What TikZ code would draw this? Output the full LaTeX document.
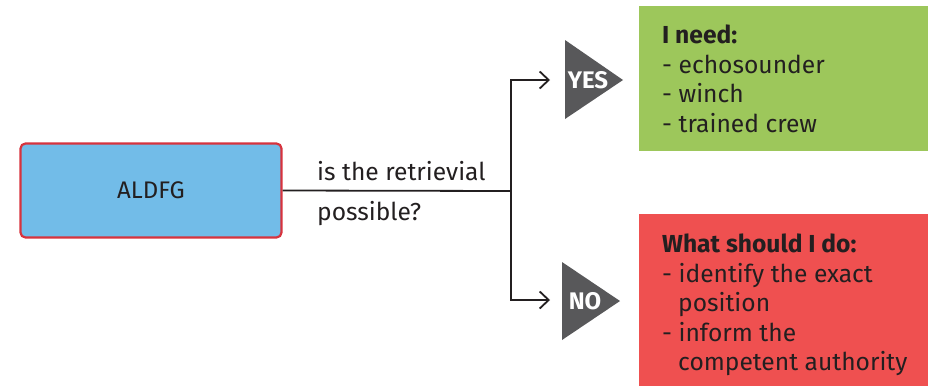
\documentclass[tikz,border=0pt]{standalone}
\usepackage{fontspec}
\setmainfont{Fira Sans}
\usetikzlibrary{arrows.meta}
\definecolor{boxblue}{HTML}{72BCE8}
\definecolor{boxedge}{HTML}{D7333D}
\definecolor{needgreen}{HTML}{9DC75B}
\definecolor{dored}{HTML}{EF5050}
\definecolor{tri}{HTML}{58585A}
\definecolor{ink}{HTML}{231F20}
\begin{document}
\begin{tikzpicture}[x=1pt,y=-1pt,
  txt/.style={font=\fontsize{24.6}{29.5}\selectfont, text=ink, inner sep=0pt},
  link/.style={draw=ink, line width=1.8pt},
  chev/.style={-{Straight Barb[length=9pt,width=17pt,line width=1.8pt]}},
  tag/.style={font=\fontsize{24}{28}\selectfont\bfseries, text=white, inner sep=0pt},
  panel/.style={txt, align=left, anchor=north west}]
\useasboundingbox (0,0) rectangle (928,386);

% start box
\node[draw=boxedge, line width=2.2pt, fill=boxblue, rounded corners=5pt,
      minimum width=261pt, minimum height=94pt, inner sep=0pt,
      font=\fontsize{24}{28}\selectfont, text=ink] (aldfg) at (151,190.5) {ALDFG};

% question
\node[txt, anchor=base west] (q1) at (317,180) {is the retrievial};
\node[txt, anchor=base west] (q2) at (317,220) {possible?};

% branching
\coordinate (j) at (511,191);
\coordinate (yesin) at (550,80);
\coordinate (noin) at (550,300);
\draw[link] (aldfg.east) -- (j);
\draw[link, chev] (j) |- (yesin);
\draw[link, chev] (j) |- (noin);

% decision markers
\fill[tri] (565,40) -- (623,80) -- (565,119) -- cycle;
\node[tag] (yes) at (588,80) {YES};
\fill[tri] (562,262) -- (620,301) -- (562,340) -- cycle;
\node[tag] (no) at (585,301) {NO};

% outcome panels
\fill[needgreen] (639,6) rectangle (928,151);
\node[panel] (need) at (662,25) {\textbf{I need:}\\- echosounder\\- winch\\- trained crew};

\fill[dored] (639,214) rectangle (928,386);
\node[panel] (todo) at (662,234) {\textbf{What should I do:}\\- identify the exact\\\hspace*{16pt}position\\- inform the\\\hspace*{16pt}competent authority};
\end{tikzpicture}
\end{document}
